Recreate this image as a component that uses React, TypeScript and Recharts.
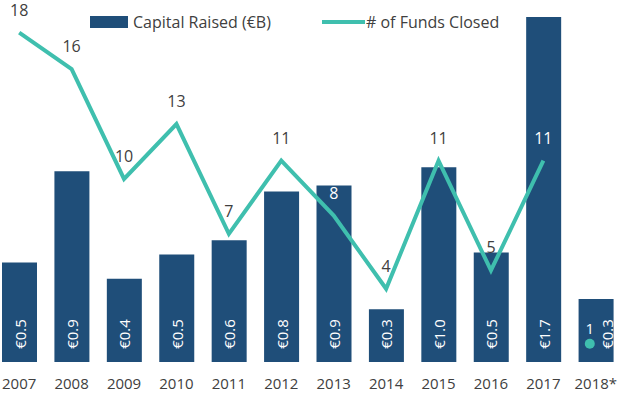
import { ComposedChart, Bar, Line, XAxis, YAxis, LabelList } from "recharts";

const years = ["2007", "2008", "2009", "2010", "2011", "2012", "2013", "2014", "2015", "2016", "2017", "2018*"];
const capitalRaised = [0.49, 0.94, 0.41, 0.53, 0.6, 0.84, 0.87, 0.26, 0.96, 0.54, 1.7, 0.31];
const fundsClosed = [18, 16, 10, 13, 7, 11, 8, 4, 11, 5, 11, 1];

const BLUE = "#1f4e79";
const TEAL = "#3fbfae";
const TEXT = "#404040";
const FONT = "'Open Sans', sans-serif";
// funds labels that sit on top of a bar are drawn white
const whiteLabelYears = ["2013", "2017", "2018*"];

const last = years.length - 1;
const data = years.map((year, i) => ({
  year,
  capital: capitalRaised[i],
  funds: i < last ? fundsClosed[i] : null,
  fundsPartial: i === last ? fundsClosed[i] : null,
}));

function BarValueLabel(props: any) {
  const { x, y, width, height, value, index } = props;
  const cx = x + width / 2 + (index === last ? 11 : 0);
  const cy = y + height - 28;
  return (
    <text
      x={cx}
      y={cy}
      transform={`rotate(-90 ${cx} ${cy})`}
      textAnchor="middle"
      dominantBaseline="central"
      fill="#ffffff"
      fontSize={15}
      fontFamily={FONT}
    >
      {`€${Number(value).toFixed(1)}`}
    </text>
  );
}

function FundsLabel(props: any) {
  const { x, y, value, index } = props;
  if (value == null) return null;
  const partial = index === last;
  const white = whiteLabelYears.includes(years[index]);
  return (
    <text
      x={x + (partial ? -6 : 0)}
      y={y - (partial ? 16 : 23)}
      textAnchor="middle"
      dominantBaseline="central"
      fill={white ? "#ffffff" : TEXT}
      fontSize={partial ? 15 : 16}
      fontFamily={FONT}
    >
      {value}
    </text>
  );
}

function PartialDot(props: any) {
  const { cx, cy, value } = props;
  if (value == null || cx == null) return null;
  return <circle cx={cx - 6} cy={cy} r={5} fill={TEAL} />;
}

function LegendOverlay() {
  const text = { position: "absolute" as const, top: 11, fontFamily: FONT, fontSize: 16, color: TEXT, whiteSpace: "nowrap" as const, lineHeight: "22px" };
  return (
    <>
      <div style={{ position: "absolute", left: 97, top: 16, width: 38, height: 12, background: BLUE }} />
      <div style={{ ...text, left: 140 }}>Capital Raised (€B)</div>
      <div style={{ position: "absolute", left: 329, top: 20, width: 43, height: 4, background: TEAL }} />
      <div style={{ ...text, left: 373 }}># of Funds Closed</div>
    </>
  );
}

export default function App() {
  return (
    <div style={{ position: "absolute", left: -7, top: 0, width: 629, height: 395 }}>
      <ComposedChart
        width={629}
        height={395}
        data={data}
        margin={{ top: 8, right: 0, bottom: 0, left: 0 }}
        barCategoryGap={0}
      >
        <XAxis
          dataKey="year"
          axisLine={false}
          tickLine={false}
          height={33}
          tickMargin={10}
          interval={0}
          tick={{ fontSize: 15, fill: TEXT, fontFamily: FONT }}
        />
        <YAxis yAxisId="cap" hide domain={[0, 1.744]} />
        <YAxis yAxisId="funds" orientation="right" hide domain={[0, 19.34]} />
        <Bar yAxisId="cap" dataKey="capital" fill={BLUE} barSize={35} isAnimationActive={false} name="Capital Raised (€B)">
          <LabelList dataKey="capital" content={<BarValueLabel />} />
        </Bar>
        <Line
          yAxisId="funds"
          dataKey="funds"
          stroke={TEAL}
          strokeWidth={4}
          dot={false}
          activeDot={false}
          isAnimationActive={false}
          connectNulls={false}
          name="# of Funds Closed"
        >
          <LabelList dataKey="funds" content={<FundsLabel />} />
        </Line>
        <Line
          yAxisId="funds"
          dataKey="fundsPartial"
          stroke="none"
          dot={<PartialDot />}
          activeDot={false}
          isAnimationActive={false}
          legendType="none"
        >
          <LabelList dataKey="fundsPartial" content={<FundsLabel />} />
        </Line>
      </ComposedChart>
      <LegendOverlay />
    </div>
  );
}
